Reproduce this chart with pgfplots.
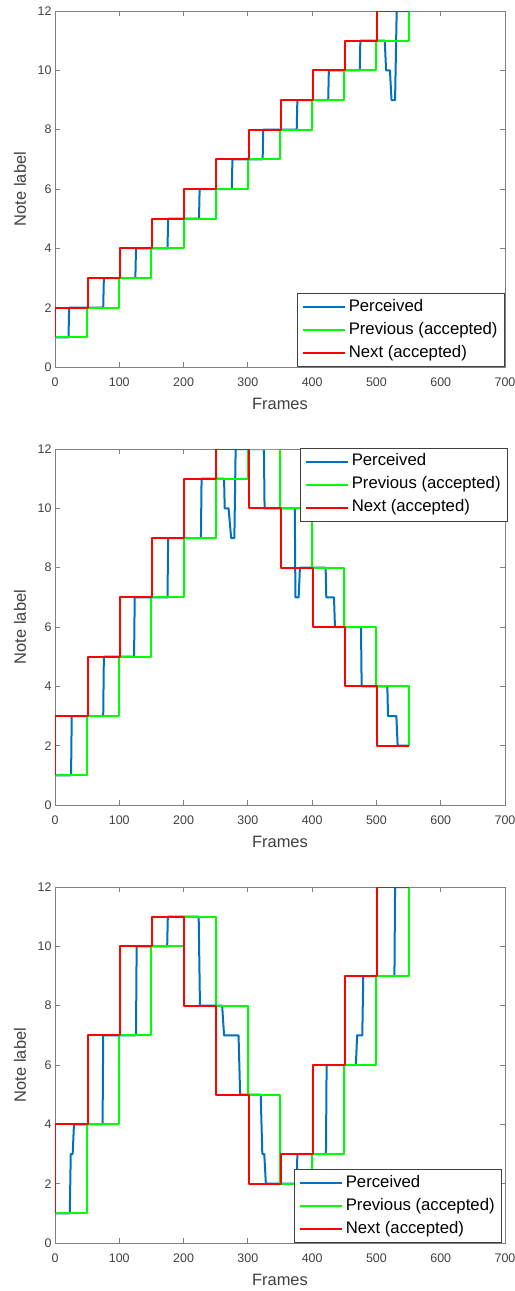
\documentclass[border=0pt]{standalone}
\usepackage{fontspec}
\setmainfont{Liberation Sans}
\usepackage{pgfplots}
\pgfplotsset{compat=1.18}
\definecolor{mblue}{rgb}{0,0.447,0.741}
\definecolor{mgreen}{rgb}{0,1,0}
\definecolor{mred}{rgb}{1,0,0}
\definecolor{axgray}{rgb}{0.5,0.5,0.5}
\definecolor{txtgray}{rgb}{0.25,0.25,0.25}
\pgfplotsset{
 myax/.style={
  width=450bp, height=356bp, scale only axis,
  xmin=0, xmax=700, ymin=0, ymax=12,
  xtick={0,100,...,700}, ytick={0,2,...,12},
  tick align=inside, major tick length=5bp,
  axis line style={axgray, line width=0.8bp},
  tick style={axgray, line width=0.8bp},
  tick label style={font=\fontsize{12.5}{14}\selectfont, text=txtgray},
  /pgf/number format/assume math mode=true,
  xticklabel style={yshift=-7bp},
  xlabel=Frames, ylabel=Note label,
  label style={font=\fontsize{16.5}{18}\selectfont, text=txtgray},
  xlabel style={at={(axis description cs:0.5,-0.104)}, anchor=center},
  ylabel style={at={(axis description cs:-0.0778,0.5)}, anchor=center},
  legend cell align=left,
  legend style={font=\fontsize{16.8}{18}\selectfont, draw=txtgray, line width=0.8bp,
    inner xsep=4.5bp, inner ysep=2bp, row sep=0bp,
    nodes={inner xsep=2.5bp, inner ysep=4bp, text height=11.5bp, text depth=3.5bp}},
  legend image code/.code={\draw[#1] (0bp,0bp) -- (42bp,0bp);},
  every axis plot/.append style={line width=2bp, line join=round},
 }
}
\begin{document}
\begin{tikzpicture}
\path[use as bounding box] (0,0) rectangle (515bp,-1291bp);
% ---------------- Plot 1 ----------------
\begin{axis}[myax, at={(55bp,-367bp)}, anchor=south west,
  legend style={at={(1,0)}, anchor=south east}]
\addplot[mblue] coordinates {(0,1) (21,1) (22,2) (75,2) (76,3) (125,3) (126,4) (175,4) (176,5) (224,5) (225,6) (275,6) (276,7) (323,7) (324,8) (376,8) (377,9) (425,9) (426,10) (474,10) (475,11) (513,11) (515,10) (521,10) (523.5,9) (529,9) (531.5,12) (550,12)};
\addplot[mgreen] coordinates {(0,1) (50,1) (50,2) (100,2) (100,3) (150,3) (150,4) (200,4) (200,5) (250,5) (250,6) (300,6) (300,7) (350,7) (350,8) (400,8) (400,9) (450,9) (450,10) (500,10) (500,11) (550,11) (550,12)};
\addplot[mred] coordinates {(0,1) (0,2) (51,2) (51,3) (101,3) (101,4) (151,4) (151,5) (201,5) (201,6) (251,6) (251,7) (301,7) (301,8) (351,8) (351,9) (401,9) (401,10) (451,10) (451,11) (501,11) (501,12) (550,12)};
\legend{Perceived, Previous (accepted), Next (accepted)}
\end{axis}
% ---------------- Plot 2 ----------------
\begin{axis}[myax, at={(55bp,-805bp)}, anchor=south west,
  legend style={at={(1.0067,1.003)}, anchor=north east}]
\addplot[mblue] coordinates {(0,1) (25,1) (26,3) (75,3) (76,5) (123,5) (124,7) (175,7) (176,9) (227,9) (228,11) (263,11) (264,10) (270,10) (274,9) (279,9) (281,12) (325,12) (326,10) (373,10) (374,7) (379,7) (381,8) (421,8) (422,7) (434,7) (435.5,6) (476,6) (477,4) (517,4) (518,3) (531,3) (533,2) (550,2)};
\addplot[mgreen] coordinates {(0,1) (50,1) (50,3) (100,3) (100,5) (150,5) (150,7) (200,7) (200,9) (250,9) (250,11) (300,11) (300,12) (350,12) (350,10) (400,10) (400,8) (450,8) (450,6) (500,6) (500,4) (550,4) (550,2)};
\addplot[mred] coordinates {(0,1) (0,3) (51,3) (51,5) (101,5) (101,7) (151,7) (151,9) (201,9) (201,11) (251,11) (251,12) (301,12) (301,10) (351,10) (351,8) (401,8) (401,6) (451,6) (451,4) (501,4) (501,2) (550,2)};
\legend{Perceived, Previous (accepted), Next (accepted)}
\end{axis}
% ---------------- Plot 3 ----------------
\begin{axis}[myax, at={(55bp,-1243bp)}, anchor=south west,
  legend style={at={(0.9935,0)}, anchor=south east}]
\addplot[mblue] coordinates {(0,1) (23,1) (24.5,3) (27.5,3) (29.5,4) (74,4) (75,7) (126,7) (127,10) (174.5,10) (175.5,11) (223.5,11) (225.5,8) (260,8) (263,7) (285.5,7) (288,5) (320,5) (322.5,3) (325.5,3) (328,2) (376,2) (377,3) (421.5,3) (422.5,6) (468,6) (470,7) (478,7) (479.5,9) (528,9) (529,12) (550,12)};
\addplot[mgreen] coordinates {(0,1) (50,1) (50,4) (100,4) (100,7) (150,7) (150,10) (200,10) (200,11) (250,11) (250,8) (300,8) (300,5) (350,5) (350,2) (400,2) (400,3) (450,3) (450,6) (500,6) (500,9) (550,9) (550,12)};
\addplot[mred] coordinates {(0,1) (0,4) (51,4) (51,7) (101,7) (101,10) (151,10) (151,11) (201,11) (201,8) (251,8) (251,5) (301,5) (301,2) (351,2) (351,3) (401,3) (401,6) (451,6) (451,9) (501,9) (501,12) (550,12)};
\legend{Perceived, Previous (accepted), Next (accepted)}
\end{axis}
\end{tikzpicture}
\end{document}
